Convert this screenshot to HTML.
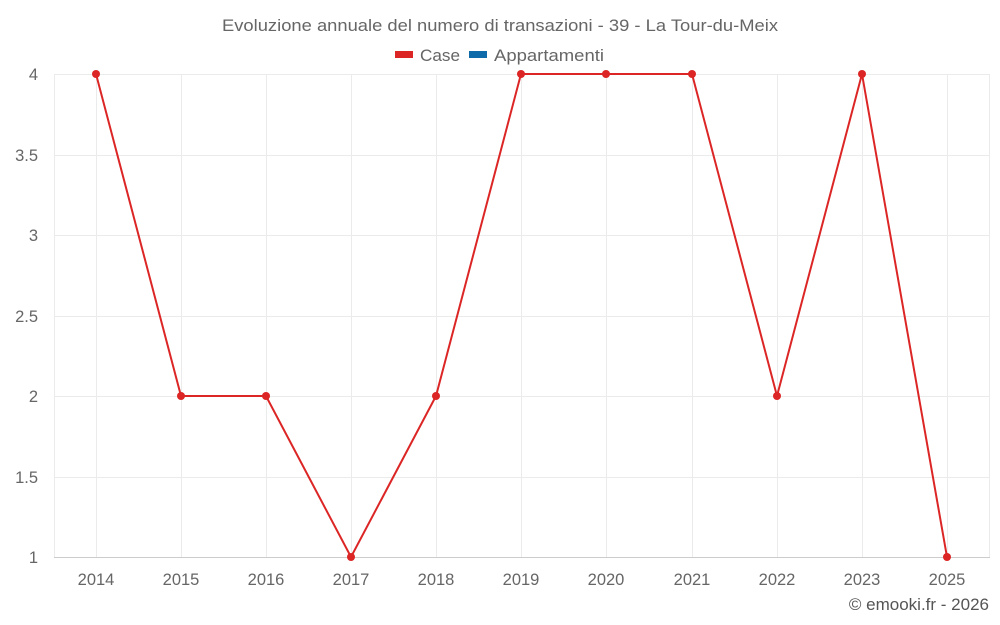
<!DOCTYPE html>
<html><head><meta charset="utf-8"><style>
body{margin:0;background:#fff;}
svg{display:block;font-family:"Liberation Sans",sans-serif;}
</style></head><body>
<svg width="1000" height="625" viewBox="0 0 1000 625" xmlns="http://www.w3.org/2000/svg">
<rect width="1000" height="625" fill="#fff"/>
<text x="500" y="31" text-anchor="middle" font-size="17" fill="#666" textLength="556" lengthAdjust="spacingAndGlyphs">Evoluzione annuale del numero di transazioni - 39 - La Tour-du-Meix</text>
<rect x="395" y="51" width="18" height="7" fill="#dc2626"/>
<text x="420" y="61" font-size="17" fill="#666" textLength="40" lengthAdjust="spacingAndGlyphs">Case</text>
<rect x="469" y="51" width="18" height="7" fill="#0e6aa8"/>
<text x="494" y="61" font-size="17" fill="#666" textLength="110" lengthAdjust="spacingAndGlyphs">Appartamenti</text>
<g stroke="#ebebeb" stroke-width="1">
<line x1="54" y1="74.5" x2="990" y2="74.5"/>
<line x1="54" y1="155.5" x2="990" y2="155.5"/>
<line x1="54" y1="235.5" x2="990" y2="235.5"/>
<line x1="54" y1="316.5" x2="990" y2="316.5"/>
<line x1="54" y1="396.5" x2="990" y2="396.5"/>
<line x1="54" y1="477.5" x2="990" y2="477.5"/>
<line x1="54.5" y1="74" x2="54.5" y2="557"/>
<line x1="96.5" y1="74" x2="96.5" y2="557"/><line x1="181.5" y1="74" x2="181.5" y2="557"/>
<line x1="266.5" y1="74" x2="266.5" y2="557"/><line x1="351.5" y1="74" x2="351.5" y2="557"/>
<line x1="436.5" y1="74" x2="436.5" y2="557"/><line x1="521.5" y1="74" x2="521.5" y2="557"/>
<line x1="606.5" y1="74" x2="606.5" y2="557"/><line x1="692.5" y1="74" x2="692.5" y2="557"/>
<line x1="777.5" y1="74" x2="777.5" y2="557"/><line x1="862.5" y1="74" x2="862.5" y2="557"/>
<line x1="947.5" y1="74" x2="947.5" y2="557"/><line x1="989.5" y1="74" x2="989.5" y2="557"/>
</g>
<line x1="54" y1="557.5" x2="990" y2="557.5" stroke="#ccc"/>
<g font-size="16.5" fill="#666" text-anchor="end">
<text x="38" y="80">4</text><text x="38" y="161">3.5</text><text x="38" y="241">3</text>
<text x="38" y="322">2.5</text><text x="38" y="402">2</text><text x="38" y="483">1.5</text><text x="38" y="563">1</text>
</g>
<g font-size="16.5" fill="#666" text-anchor="middle">
<text x="96" y="585">2014</text><text x="181" y="585">2015</text><text x="266" y="585">2016</text>
<text x="351" y="585">2017</text><text x="436" y="585">2018</text><text x="521" y="585">2019</text>
<text x="606" y="585">2020</text><text x="692" y="585">2021</text><text x="777" y="585">2022</text>
<text x="862" y="585">2023</text><text x="947" y="585">2025</text>
</g>
<polyline fill="none" stroke="#dc2626" stroke-width="2" points="96,74 181,396 266,396 351,557 436,396 521,74 606,74 692,74 777,396 862,74 947,557"/>
<g fill="#dc2626">
<circle cx="96" cy="74" r="4"/><circle cx="181" cy="396" r="4"/><circle cx="266" cy="396" r="4"/>
<circle cx="351" cy="557" r="4"/><circle cx="436" cy="396" r="4"/><circle cx="521" cy="74" r="4"/>
<circle cx="606" cy="74" r="4"/><circle cx="692" cy="74" r="4"/><circle cx="777" cy="396" r="4"/>
<circle cx="862" cy="74" r="4"/><circle cx="947" cy="557" r="4"/>
</g>
<text x="989" y="610" text-anchor="end" font-size="17" fill="#555">© emooki.fr - 2026</text>
</svg>
</body></html>
